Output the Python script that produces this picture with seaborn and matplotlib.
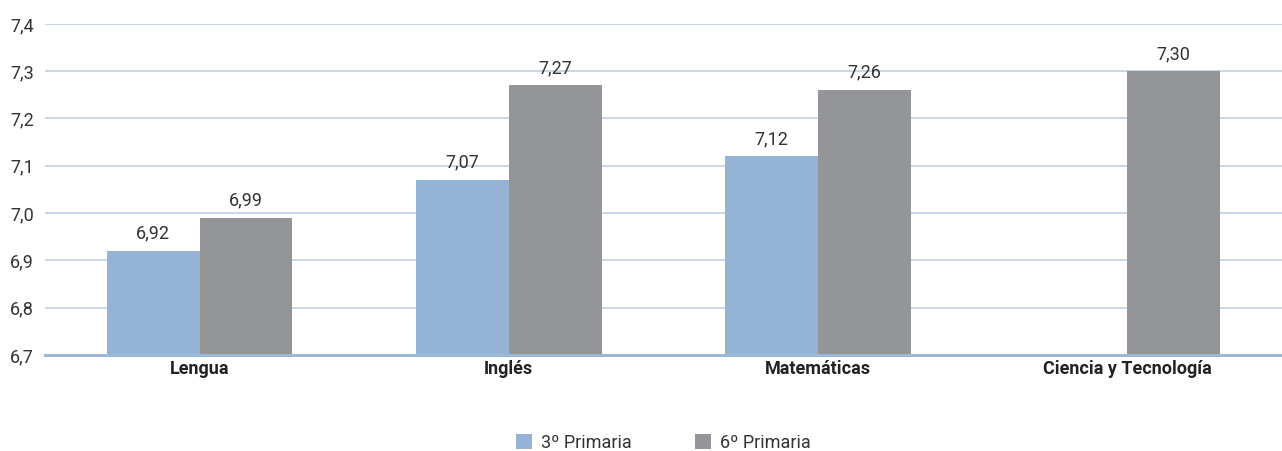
import numpy as np
import pandas as pd
import matplotlib
matplotlib.use('Agg')
import matplotlib.pyplot as plt
import seaborn as sns

asignaturas = ['Lengua', 'Inglés', 'Matemáticas', 'Ciencia y Tecnología']
tercero = [6.92, 7.07, 7.12, np.nan]
sexto = [6.99, 7.27, 7.26, 7.30]
cursos = ['3º Primaria', '6º Primaria']
yticks = [6.7, 6.8, 6.9, 7.0, 7.1, 7.2, 7.3, 7.4]

sns.set_theme(style='white')
plt.rcParams['font.family'] = ['Roboto', 'DejaVu Sans']

df = pd.DataFrame({'asignatura': asignaturas * 2,
                   'curso': [cursos[0]] * 4 + [cursos[1]] * 4,
                   'nota': tercero + sexto})

colores = {cursos[0]: '#95b3d4', cursos[1]: '#939598'}

fig = plt.figure(figsize=(12.82, 4.51), dpi=100)
ax = fig.add_axes([0.035, 0.213, 0.965, 0.734])

sns.barplot(data=df, x='asignatura', y='nota', hue='curso', palette=colores,
            width=0.6, saturation=1, linewidth=0, ax=ax, zorder=2)

ax.set_ylim(6.7, 7.4)
ax.set_xlim(-0.5, 3.5)
ax.set_yticks(yticks)
ax.set_yticklabels([f'{v:.1f}'.replace('.', ',') for v in yticks], fontsize=13, color='#333333')
ax.tick_params(axis='y', length=0, pad=8)
ax.tick_params(axis='x', length=0, pad=4)
for lab in ax.get_xticklabels():
    lab.set_fontweight('bold')
    lab.set_fontsize(13)
    lab.set_color('#222222')
ax.set_xlabel('')
ax.set_ylabel('')

ax.grid(axis='y', color='#c3d4e8', linewidth=1.3, zorder=0)
for s in ['top', 'right', 'left']:
    ax.spines[s].set_visible(False)
ax.spines['bottom'].set_color('#9bb8d8')
ax.spines['bottom'].set_linewidth(2.2)

for cont in ax.containers:
    labels = ['' if np.isnan(v) else f'{v:.2f}'.replace('.', ',') for v in cont.datavalues]
    ax.bar_label(cont, labels=labels, padding=6, fontsize=13, color='#333333')

ax.legend(loc='upper center', bbox_to_anchor=(0.5, -0.19), ncol=2, frameon=False,
          fontsize=13, handlelength=0.9, handleheight=0.9, columnspacing=3.5,
          handletextpad=0.5, labelcolor='#333333')

fig.savefig('out.png', dpi=100)
